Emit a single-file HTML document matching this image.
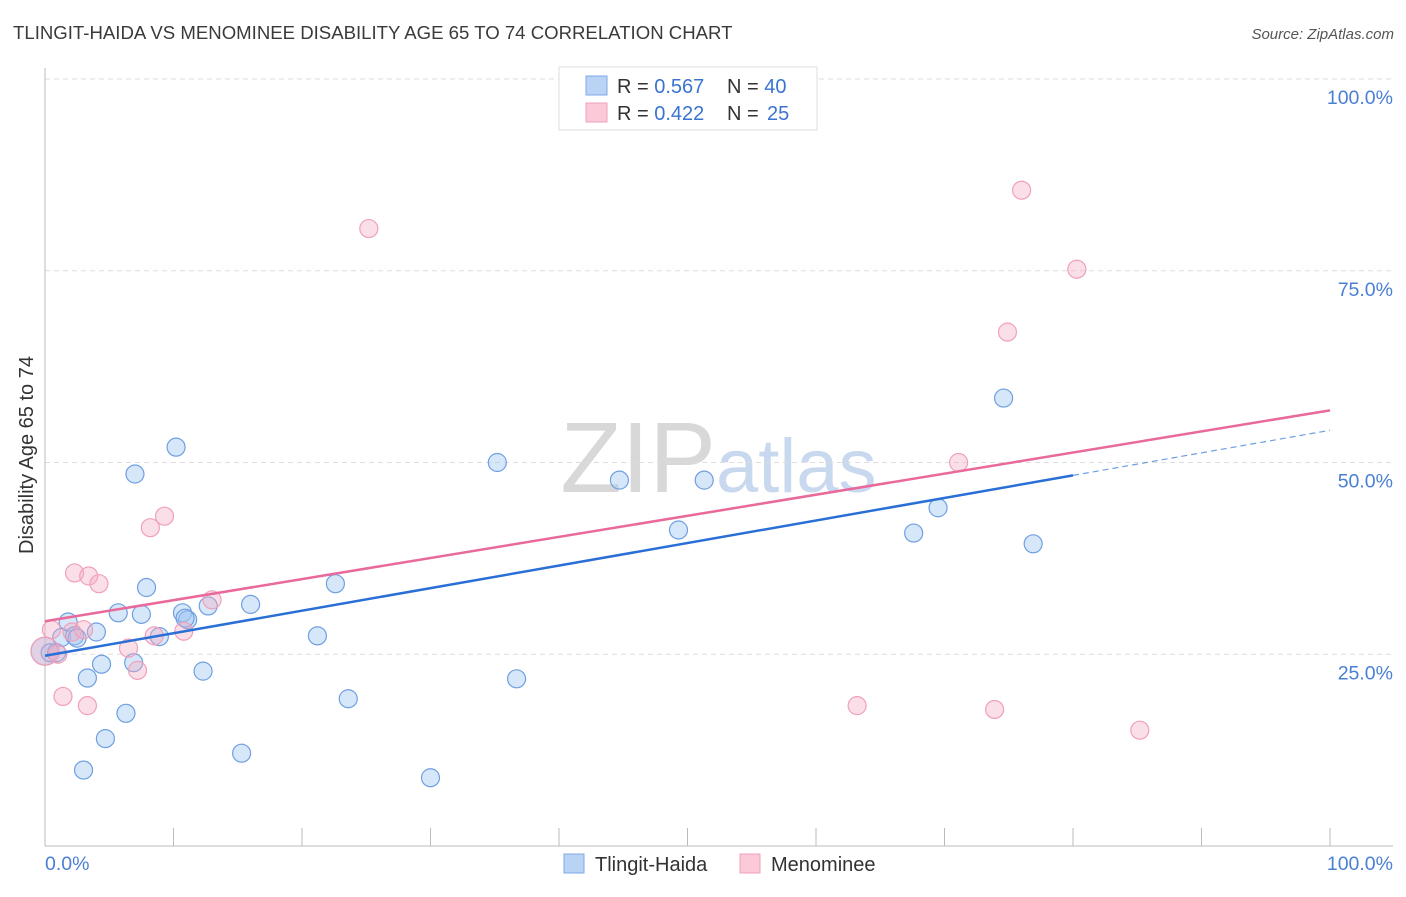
<!DOCTYPE html>
<html><head><meta charset="utf-8"><style>
body{margin:0;background:#fff;font-family:"Liberation Sans",sans-serif;}
svg text{font-family:"Liberation Sans",sans-serif;}
</style></head><body>
<svg id="chart" width="1406" height="892">
<text x="13" y="39" font-size="18.6" fill="#3a3a3a">TLINGIT-HAIDA VS MENOMINEE DISABILITY AGE 65 TO 74 CORRELATION CHART</text>
<text x="1394" y="39" font-size="15" fill="#555" font-style="italic" text-anchor="end">Source: ZipAtlas.com</text>
<text x="716" y="492" font-size="100" fill="#d8d8d8" font-family="Liberation Serif" text-anchor="end">ZIP</text>
<text x="716" y="492" font-size="76" fill="#c8d8ee">atlas</text>
<text transform="translate(33,455) rotate(-90)" font-size="20" fill="#333" text-anchor="middle">Disability Age 65 to 74</text>
<g id="grid"></g><g id="axes"></g><g id="pts"></g><g id="lines"></g>
<g>
<rect x="559" y="67" width="258" height="63" fill="#fff" stroke="#ddd"/>
<rect x="586" y="76" width="21" height="19" fill="#b9d3f5" stroke="#7ea8e6"/>
<rect x="586" y="103" width="21" height="19" fill="#fbc9d8" stroke="#f0a0b8"/>
<text x="617" y="93" font-size="20" fill="#333">R = <tspan fill="#3a74d0">0.567</tspan></text>
<text x="727" y="93" font-size="20" fill="#333">N = <tspan fill="#3a74d0">40</tspan></text>
<text x="617" y="120" font-size="20" fill="#333">R = <tspan fill="#3a74d0">0.422</tspan></text>
<text x="727" y="120" font-size="20" fill="#333">N = <tspan fill="#3a74d0" x="767">25</tspan></text>
</g>
<g>
<rect x="564" y="854" width="20" height="19" fill="#b9d3f5" stroke="#7ea8e6"/>
<text x="595" y="871" font-size="20" fill="#333">Tlingit-Haida</text>
<rect x="740" y="854" width="20" height="19" fill="#fbc9d8" stroke="#f0a0b8"/>
<text x="771" y="871" font-size="20" fill="#333">Menominee</text>
</g>
</svg>
<script>
const yTicks=[25,50,75,100];
const yTickLabels=["25.0%","50.0%","75.0%","100.0%"];
const blueX=[0,0.4,0.9,1.3,1.8,2.3,2.5,3.3,4.0,4.4,4.7,3.0,5.7,6.3,7.0,6.9,7.5,7.9,8.9,10.2,10.7,11.1,12.3,12.7,15.3,16.0,21.2,22.6,23.6,30.0,35.2,36.7,44.7,49.3,51.3,67.6,69.5,74.6,76.9,10.9];
const blueY=[25.4,25.2,25.2,27.2,29.2,27.4,27.1,21.9,27.9,23.7,14.0,9.9,30.4,17.3,48.5,23.9,30.2,33.7,27.3,52.0,30.4,29.5,22.8,31.3,12.1,31.5,27.4,34.2,19.2,8.9,50.0,21.8,47.7,41.2,47.7,40.8,44.1,58.4,39.4,29.7];
const pinkX=[0,0.5,1.0,1.4,2.1,2.3,3.0,3.3,3.4,4.2,6.5,7.2,8.2,8.5,9.3,10.8,13.0,25.2,63.2,71.1,73.9,74.9,76.0,80.3,85.2];
const pinkY=[25.4,28.2,25.0,19.5,27.9,35.6,28.2,18.3,35.2,34.2,25.8,22.9,41.5,27.4,43.0,28.0,32.1,80.5,18.3,50.0,17.8,67.0,85.5,75.2,15.1];
const blueTrend=[24.8,54.2], blueSolidEnd=80;
const pinkTrend=[29.3,56.8];
const NS="http://www.w3.org/2000/svg";
const sx=v=>45+v*12.85, sy=v=>846-v*7.67;
function mk(tag,attrs,parent){const e=document.createElementNS(NS,tag);for(const k in attrs)e.setAttribute(k,attrs[k]);document.getElementById(parent).appendChild(e);return e;}
yTicks.forEach((t,i)=>{
 const g=mk('line',{x1:45,x2:1393,y1:sy(t),y2:sy(t),stroke:'#ddd','stroke-dasharray':'5,4'},'grid');
 
 
 const l=mk('text',{x:1393,y:sy(t)+25,'font-size':19.5,fill:'#4a7fd4','text-anchor':'end'},'grid');
 l.textContent=yTickLabels[i];
 
 
});
const ax=mk('line',{x1:45,x2:1393,y1:846,y2:846,stroke:'#bbb'},'axes');


const ay=mk('line',{x1:45,x2:45,y1:68,y2:846,stroke:'#bbb'},'axes');


for(let i=1;i<=10;i++){const t=mk('line',{x1:sx(i*10),x2:sx(i*10),y1:828,y2:846,stroke:'#bbb'},'axes');
 
 }
const x0=mk('text',{x:45,y:870,'font-size':19.5,fill:'#4a7fd4'},'axes');x0.textContent='0.0%';


const x1=mk('text',{x:1393,y:870,'font-size':19.5,fill:'#4a7fd4','text-anchor':'end'},'axes');x1.textContent='100.0%';


blueX.forEach((x,i)=>{const c=mk('circle',{cx:sx(x),cy:sy(blueY[i]),r:i===0?14:9,fill:'rgba(160,198,242,0.42)',stroke:'#6f9fe0','stroke-width':1.2},'pts');
 
 });
pinkX.forEach((x,i)=>{const c=mk('circle',{cx:sx(x),cy:sy(pinkY[i]),r:i===0?14:9,fill:'rgba(245,170,195,0.38)',stroke:'#f0a0b8','stroke-width':1.2},'pts');
 
 });
const by=x=>blueTrend[0]+(blueTrend[1]-blueTrend[0])*x/100;
const bl=mk('line',{x1:sx(0),y1:sy(by(0)),x2:sx(blueSolidEnd),y2:sy(by(blueSolidEnd)),stroke:'#2a6fd6','stroke-width':2.5},'lines');


const bd=mk('line',{x1:sx(blueSolidEnd),y1:sy(by(blueSolidEnd)),x2:sx(100),y2:sy(by(100)),stroke:'#6f9fe0','stroke-width':1.2,'stroke-dasharray':'6,4'},'lines');


const pl=mk('line',{x1:sx(0),y1:sy(pinkTrend[0]),x2:sx(100),y2:sy(pinkTrend[1]),stroke:'#e8699a','stroke-width':2.5},'lines');


</script>
</body></html>
